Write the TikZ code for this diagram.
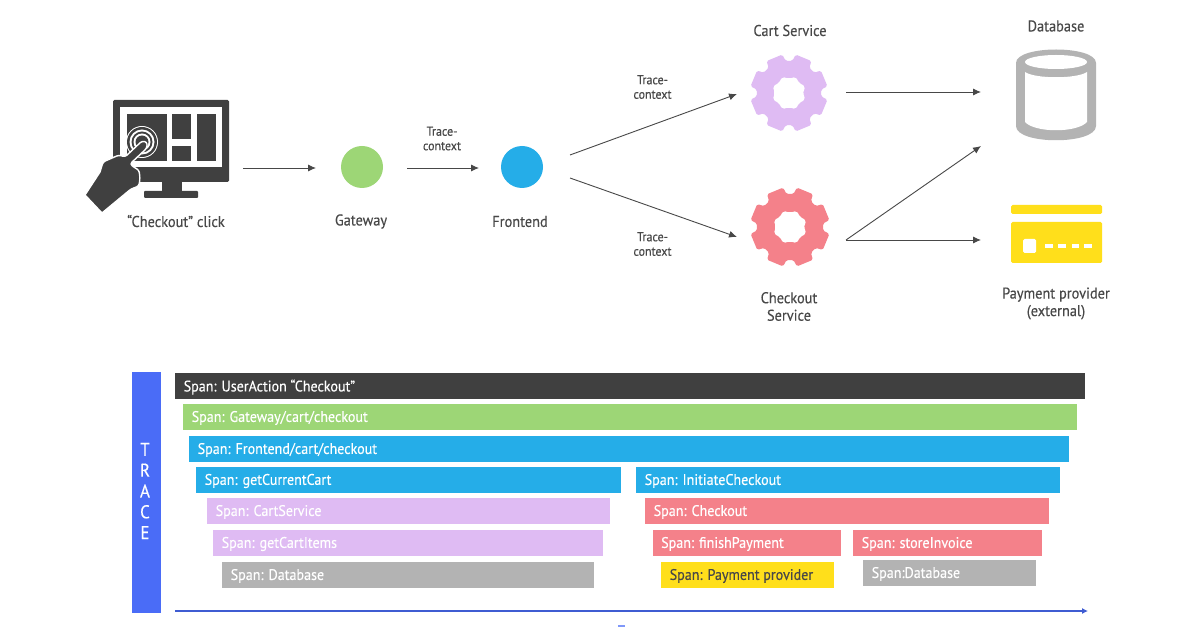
\documentclass[tikz,border=0pt]{standalone}
\usepackage{fontspec}
\setmainfont[FakeBold=0.25,FakeStretch=0.92]{PT Sans}
\usetikzlibrary{arrows.meta,calc}
\definecolor{ink}{HTML}{484848}
\definecolor{dark}{HTML}{404040}
\definecolor{grn}{HTML}{9DD676}
\definecolor{blu}{HTML}{25ADE8}
\definecolor{pur}{HTML}{DFBBF3}
\definecolor{pnk}{HTML}{F4818A}
\definecolor{gry}{HTML}{B3B3B3}
\definecolor{yel}{HTML}{FFDF1B}
\definecolor{trc}{HTML}{4A6CF7}
\tikzset{
  lbl/.style={text=ink,font=\fontsize{15.6}{17.5}\selectfont,align=center,inner sep=0pt},
  small/.style={text=ink,font=\fontsize{13}{14.5}\selectfont,align=center,inner sep=0pt},
  conn/.style={draw=ink,line width=0.9pt,-{Latex[length=8pt,width=7pt]}},
  dot/.style={circle,inner sep=0pt,minimum size=42pt},
  spanlbl/.style={text=white,font=\fontsize{15.3}{17}\selectfont,anchor=west,inner sep=0pt}
}
% #1 name, #2 colour, #3 left, #4 top, #5 right, #6 bottom, #7 text, #8 text colour
\newcommand{\spanbar}[8]{%
  \fill[#2] (#3,#4) rectangle (#5,#6);
  \node[spanlbl,text=#8] (#1) at ({#3+8.5},{(#4+#6)/2+1}) {#7};
}
\newcommand{\gearshape}[4]{% x y outer colour
  \fill[#4,rounded corners=1.6pt]
    ({#1+#3*0.83*cos(6)},{#2+#3*0.83*sin(6)})
    \foreach \k in {0,...,7}{
      -- ({#1+#3*0.83*cos(45*\k+6)},{#2+#3*0.83*sin(45*\k+6)})
      -- ({#1+#3*cos(45*\k+10)},{#2+#3*sin(45*\k+10)})
      -- ({#1+#3*cos(45*\k+35)},{#2+#3*sin(45*\k+35)})
      -- ({#1+#3*0.83*cos(45*\k+39)},{#2+#3*0.83*sin(45*\k+39)})
    } -- cycle;
  \fill[white,rounded corners=2pt]
    ({#1+14.2},{#2})
    \foreach \k in {0,...,7}{
      -- ({#1+14.2*cos(45*\k)},{#2+14.2*sin(45*\k)})
      -- ({#1+17.5*cos(45*\k+22.5)},{#2+17.5*sin(45*\k+22.5)})
    } -- cycle;
}
\begin{document}
\begin{tikzpicture}[x=1pt,y=-1pt]
\useasboundingbox (0,0) rectangle (1200,628);
\fill[white] (0,0) rectangle (1200,628);

% monitor
\fill[dark,rounded corners=1.5pt] (113,100) rectangle (229,182);
\fill[white] (120,107) rectangle (222,167);
\fill[dark] (127,114) rectangle (167,161);
\fill[dark] (172,114) rectangle (191,139);
\fill[dark] (172,146) rectangle (191,161);
\fill[dark] (197,114) rectangle (216,161);
\fill[dark] (162,182) rectangle (182,191);
\fill[dark,rounded corners=1pt] (144,191) rectangle (198,198);
\fill[white] (142,142) circle (16);
\fill[dark] (142,142) circle (15);
\fill[white] (142,142) circle (12.5);
\fill[dark] (142,142) circle (10.5);
\fill[white] (142,142) circle (8.5);
\fill[dark] (142,142) circle (6.5);
% hand
\fill[dark,draw=white,line width=1.4pt,line join=round]
  (85,195) -- (100,172) [rounded corners=2.5pt] -- (103,162) -- (119,155) -- (125,157) -- (142,141) -- (147,142) -- (147,148)
  -- (130,164) -- (135,168) -- (139,170) -- (140,178) -- (139,186) -- (131,189) [sharp corners] -- (102,213) -- cycle;

\node[lbl] (click) at (176,221) {“Checkout” click};

% service dots
\node[dot,fill=grn] (gw) at (362,167) {};
\node[lbl] (gwl) at (361,221.5) {Gateway};
\node[dot,fill=blu] (fe) at (522,167) {};
\node[lbl] (fel) at (520,221.5) {Frontend};

% gears
\gearshape{789}{93}{39}{pur}
\gearshape{790}{227}{40}{pnk}
\node[lbl] (cartl) at (790,30.5) {Cart Service};
\node[lbl] (chkl) at (789,306.5) {Checkout\\Service};

% database
\fill[gry] (1016,63) .. controls (1016,45) and (1096,45) .. (1096,63)
  -- (1096,126) .. controls (1096,145) and (1016,145) .. (1016,126) -- cycle;
\fill[white] (1025,72) .. controls (1035,79) and (1077,79) .. (1087,72)
  -- (1087,122) .. controls (1077,133) and (1035,133) .. (1025,122) -- cycle;
\fill[white] (1056,62) ellipse[x radius=31,y radius=7];
\node[lbl] (dbl) at (1056,26) {Database};

% card
\fill[yel,rounded corners=1.5pt] (1011,205) rectangle (1102,214);
\fill[yel,rounded corners=1.5pt] (1011,222) rectangle (1102,263);
\fill[white,rounded corners=1.5pt] (1023,239) rectangle (1036,253);
\fill[white] (1045,244) rectangle (1053,248);
\fill[white] (1058,244) rectangle (1066,248);
\fill[white] (1072,244) rectangle (1079,248);
\fill[white] (1084,244) rectangle (1092,248);
\node[lbl] (payl) at (1056,303.5) {Payment provider\\(external)};

% connector ends
\coordinate (clickout) at (243,168);
\coordinate (gwin) at (316,168);
\coordinate (gwout) at (407,168);
\coordinate (fein) at (479,168);
\coordinate (feoutA) at (570,155);
\coordinate (cartin) at (737,94);
\coordinate (feoutB) at (570,178);
\coordinate (chkin) at (737,237);
\coordinate (cartout) at (846,92);
\coordinate (dbinA) at (981,92);
\coordinate (chkout) at (846,240);
\coordinate (dbinB) at (981,146);
\coordinate (payin) at (981,240);
\draw[conn] (clickout) -- (gwin);
\draw[conn] (gwout) -- (fein);
\draw[conn] (feoutA) -- (cartin);
\draw[conn] (feoutB) -- (chkin);
\draw[conn] (cartout) -- (dbinA);
\draw[conn] (chkout) -- (dbinB);
\draw[conn] (chkout) -- (payin);
\node[small] (tc1) at (442,138.5) {Trace-\\context};
\node[small] (tc2) at (652.5,87) {Trace-\\context};
\node[small] (tc3) at (652.5,244) {Trace-\\context};

% trace band
\fill[trc] (132,372) rectangle (161,613);
\node[text=white,font=\fontsize{18.5}{20.8}\selectfont,align=center,inner sep=0pt] (trace) at (145,491) {T\\R\\A\\C\\E};

% spans
\spanbar{s1}{dark}{175}{373}{1085}{399}{Span: UserAction “Checkout”}{white}
\spanbar{s2}{grn}{183}{404}{1077}{430}{Span: Gateway/cart/checkout}{white}
\spanbar{s3}{blu}{189}{436}{1069}{462}{Span: Frontend/cart/checkout}{white}
\spanbar{s4}{blu}{196}{467}{621}{493}{Span: getCurrentCart}{white}
\spanbar{s5}{blu}{636}{467}{1060}{493}{Span: InitiateCheckout}{white}
\spanbar{s6}{pur}{207}{498}{610}{524}{Span: CartService}{white}
\spanbar{s7}{pur}{213}{530}{603}{556}{Span: getCartItems}{white}
\spanbar{s8}{gry}{222}{562}{593.5}{588}{Span: Database}{white}
\spanbar{s9}{pnk}{645}{498}{1049}{524}{Span: Checkout}{white}
\spanbar{s10}{pnk}{652.5}{530}{841}{556}{Span: finishPayment}{white}
\spanbar{s11}{pnk}{853}{530}{1042}{556}{Span: storeInvoice}{white}
\spanbar{s12}{yel}{661}{562}{834}{588}{Span: Payment provider}{ink}
\spanbar{s13}{gry}{863}{560}{1036}{586}{Span:Database}{white}

% time axis
\coordinate (axisL) at (175,611);
\coordinate (axisR) at (1088,611);
\draw[draw=trc!85!black,line width=1.1pt,-{Latex[length=6pt,width=6pt]}] (axisL) -- (axisR);
\fill[trc!70] (618,624.5) rectangle (625,626.5);
\end{tikzpicture}
\end{document}
